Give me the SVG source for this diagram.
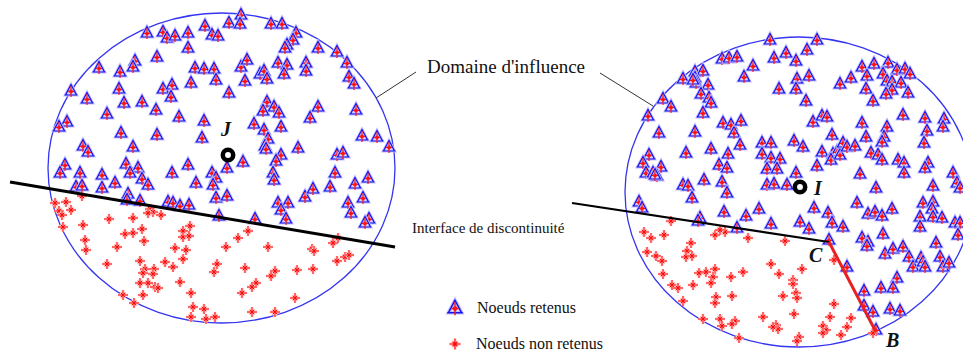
<svg xmlns="http://www.w3.org/2000/svg" xmlns:xlink="http://www.w3.org/1999/xlink" width="963" height="354" viewBox="0 0 963 354">
<style>
.dom{fill:none;stroke:#3535f0;stroke-width:1.3}
.lead{stroke:#333;stroke-width:1;fill:none}
.lbl{font-family:"Liberation Serif","Times New Roman",serif;fill:#111}
.pt{font-family:"Liberation Serif","Times New Roman",serif;font-style:italic;font-weight:bold;fill:#111;font-size:20px}
.ring{fill:none;stroke:#000;stroke-width:4.5}
</style>
<defs>
<g id="t">
<path d="M0,-6.5 L-5.5,4 L5.5,4 Z" fill="#efecff" stroke="#c2bcff" stroke-width="3"/>
<path d="M0,-6.5 L-5.5,4 L5.5,4 Z M-6.5,4 H6.5" fill="none" stroke="#1414ee" stroke-width="1.2"/>
<path d="M0,-5 V6 M-3,0.5 H3" stroke="#ff1414" stroke-width="1.2"/>
<circle cy="0.5" r="2" fill="#ff1414"/>
</g>
<g id="s">
<path d="M0,-5V5M-5,0H5M-2.5,-2.5L2.5,2.5M-2.5,2.5L2.5,-2.5" stroke="#ffc4c4" stroke-width="2.6"/>
<path d="M0,-5V5M-5,0H5M-2.2,-2.2L2.2,2.2M-2.2,2.2L2.2,-2.2" stroke="#ff0a0a" stroke-width="1"/>
<circle r="1.3" fill="#ff0a0a"/>
</g>
</defs>
<rect width="963" height="354" fill="#fff"/>

<g id="domaine-J">
<ellipse class="dom" cx="221.5" cy="168" rx="173.5" ry="155"/>
<g id="noeuds-retenus-J">
<use href="#t" x="241" y="15"/><use href="#t" x="229" y="23"/><use href="#t" x="240" y="24"/><use href="#t" x="271" y="24"/><use href="#t" x="282" y="24"/>
<use href="#t" x="147" y="33"/><use href="#t" x="163" y="32"/><use href="#t" x="167" y="38"/><use href="#t" x="175" y="36"/><use href="#t" x="188" y="33"/>
<use href="#t" x="205" y="26"/><use href="#t" x="212" y="35"/><use href="#t" x="218" y="36"/><use href="#t" x="296" y="33"/><use href="#t" x="293" y="40"/>
<use href="#t" x="287" y="45"/><use href="#t" x="285" y="48"/><use href="#t" x="188" y="48"/><use href="#t" x="318" y="48"/><use href="#t" x="337" y="52"/>
<use href="#t" x="347" y="63"/><use href="#t" x="157" y="57"/><use href="#t" x="135" y="61"/><use href="#t" x="133" y="67"/><use href="#t" x="99" y="68"/>
<use href="#t" x="120" y="72"/><use href="#t" x="195" y="68"/><use href="#t" x="204" y="69"/><use href="#t" x="214" y="69"/><use href="#t" x="216" y="80"/>
<use href="#t" x="241" y="67"/><use href="#t" x="247" y="60"/><use href="#t" x="245" y="81"/><use href="#t" x="260" y="74"/><use href="#t" x="264" y="71"/>
<use href="#t" x="267" y="79"/><use href="#t" x="278" y="63"/><use href="#t" x="287" y="65"/><use href="#t" x="284" y="74"/><use href="#t" x="306" y="63"/>
<use href="#t" x="306" y="71"/><use href="#t" x="349" y="77"/><use href="#t" x="354" y="84"/><use href="#t" x="71" y="91"/><use href="#t" x="87" y="99"/>
<use href="#t" x="119" y="89"/><use href="#t" x="163" y="89"/><use href="#t" x="172" y="85"/><use href="#t" x="171" y="97"/><use href="#t" x="191" y="83"/>
<use href="#t" x="229" y="93"/><use href="#t" x="124" y="103"/><use href="#t" x="142" y="102"/><use href="#t" x="156" y="110"/><use href="#t" x="107" y="114"/>
<use href="#t" x="179" y="117"/><use href="#t" x="204" y="121"/><use href="#t" x="267" y="102"/><use href="#t" x="274" y="107"/><use href="#t" x="263" y="111"/>
<use href="#t" x="279" y="113"/><use href="#t" x="318" y="107"/><use href="#t" x="356" y="110"/><use href="#t" x="310" y="118"/><use href="#t" x="254" y="124"/>
<use href="#t" x="264" y="130"/><use href="#t" x="281" y="127"/><use href="#t" x="268" y="139"/><use href="#t" x="265" y="146"/><use href="#t" x="266" y="149"/>
<use href="#t" x="67" y="122"/><use href="#t" x="59" y="127"/><use href="#t" x="121" y="133"/><use href="#t" x="157" y="135"/><use href="#t" x="202" y="138"/>
<use href="#t" x="133" y="147"/><use href="#t" x="83" y="146"/><use href="#t" x="88" y="152"/><use href="#t" x="298" y="148"/><use href="#t" x="362" y="136"/>
<use href="#t" x="377" y="137"/><use href="#t" x="389" y="147"/><use href="#t" x="337" y="155"/><use href="#t" x="343" y="153"/><use href="#t" x="281" y="155"/>
<use href="#t" x="276" y="161"/><use href="#t" x="243" y="162"/><use href="#t" x="227" y="168"/><use href="#t" x="65" y="165"/><use href="#t" x="60" y="173"/>
<use href="#t" x="80" y="173"/><use href="#t" x="102" y="175"/><use href="#t" x="126" y="164"/><use href="#t" x="138" y="168"/><use href="#t" x="130" y="173"/>
<use href="#t" x="172" y="173"/><use href="#t" x="188" y="165"/><use href="#t" x="212" y="173"/><use href="#t" x="216" y="178"/><use href="#t" x="273" y="173"/>
<use href="#t" x="335" y="173"/><use href="#t" x="368" y="178"/><use href="#t" x="142" y="179"/><use href="#t" x="148" y="185"/><use href="#t" x="213" y="185"/>
<use href="#t" x="196" y="183"/><use href="#t" x="274" y="180"/><use href="#t" x="355" y="184"/><use href="#t" x="76" y="187"/><use href="#t" x="82" y="186"/>
<use href="#t" x="102" y="188"/><use href="#t" x="115" y="183"/><use href="#t" x="128" y="194"/><use href="#t" x="127" y="200"/><use href="#t" x="140" y="201"/>
<use href="#t" x="168" y="202"/><use href="#t" x="173" y="203"/><use href="#t" x="180" y="206"/><use href="#t" x="189" y="205"/><use href="#t" x="216" y="198"/>
<use href="#t" x="227" y="196"/><use href="#t" x="219" y="216"/><use href="#t" x="255" y="219"/><use href="#t" x="278" y="203"/><use href="#t" x="288" y="203"/>
<use href="#t" x="281" y="210"/><use href="#t" x="286" y="219"/><use href="#t" x="305" y="197"/><use href="#t" x="313" y="189"/><use href="#t" x="330" y="187"/>
<use href="#t" x="348" y="203"/><use href="#t" x="363" y="198"/><use href="#t" x="351" y="213"/><use href="#t" x="369" y="219"/><use href="#t" x="365" y="223"/>
</g>
<g id="noeuds-non-retenus-J">
<use href="#s" x="55" y="203"/><use href="#s" x="66" y="202"/><use href="#s" x="71" y="210"/><use href="#s" x="59" y="211"/><use href="#s" x="62" y="215"/>
<use href="#s" x="63" y="227"/><use href="#s" x="82" y="196"/><use href="#s" x="83" y="225"/><use href="#s" x="85" y="240"/><use href="#s" x="86" y="250"/>
<use href="#s" x="109" y="219"/><use href="#s" x="133" y="218"/><use href="#s" x="150" y="209"/><use href="#s" x="153" y="212"/><use href="#s" x="148" y="213"/>
<use href="#s" x="161" y="215"/><use href="#s" x="125" y="234"/><use href="#s" x="133" y="233"/><use href="#s" x="142" y="229"/><use href="#s" x="144" y="241"/>
<use href="#s" x="117" y="247"/><use href="#s" x="183" y="231"/><use href="#s" x="190" y="226"/><use href="#s" x="183" y="237"/><use href="#s" x="189" y="236"/>
<use href="#s" x="175" y="248"/><use href="#s" x="186" y="250"/><use href="#s" x="183" y="259"/><use href="#s" x="140" y="261"/><use href="#s" x="165" y="262"/>
<use href="#s" x="173" y="267"/><use href="#s" x="107" y="264"/><use href="#s" x="145" y="269"/><use href="#s" x="154" y="269"/><use href="#s" x="143" y="273"/>
<use href="#s" x="153" y="274"/><use href="#s" x="140" y="283"/><use href="#s" x="148" y="283"/><use href="#s" x="155" y="287"/><use href="#s" x="158" y="288"/>
<use href="#s" x="180" y="282"/><use href="#s" x="123" y="295"/><use href="#s" x="143" y="295"/><use href="#s" x="134" y="303"/><use href="#s" x="191" y="293"/>
<use href="#s" x="193" y="307"/><use href="#s" x="204" y="309"/><use href="#s" x="191" y="317"/><use href="#s" x="206" y="319"/><use href="#s" x="215" y="317"/>
<use href="#s" x="226" y="247"/><use href="#s" x="238" y="238"/><use href="#s" x="248" y="231"/><use href="#s" x="217" y="264"/><use href="#s" x="214" y="272"/>
<use href="#s" x="245" y="268"/><use href="#s" x="268" y="247"/><use href="#s" x="275" y="271"/><use href="#s" x="271" y="276"/><use href="#s" x="256" y="283"/>
<use href="#s" x="252" y="287"/><use href="#s" x="242" y="293"/><use href="#s" x="252" y="312"/><use href="#s" x="275" y="312"/><use href="#s" x="295" y="298"/>
<use href="#s" x="297" y="270"/><use href="#s" x="313" y="269"/><use href="#s" x="312" y="249"/><use href="#s" x="314" y="251"/><use href="#s" x="333" y="243"/>
<use href="#s" x="338" y="238"/><use href="#s" x="337" y="261"/><use href="#s" x="345" y="257"/><use href="#s" x="349" y="255"/>
</g>
<g id="node-J">
<circle class="ring" cx="228" cy="155" r="5.2"/>
<text class="pt" x="221" y="136">J</text>
</g>
</g>

<g id="domaine-I">
<ellipse class="dom" cx="799" cy="192" rx="174" ry="155"/>
<g id="noeuds-retenus-I">
<use href="#t" x="770" y="40"/><use href="#t" x="817" y="40"/><use href="#t" x="786" y="53"/><use href="#t" x="807" y="50"/><use href="#t" x="774" y="58"/>
<use href="#t" x="796" y="61"/><use href="#t" x="722" y="59"/><use href="#t" x="729" y="58"/><use href="#t" x="737" y="57"/><use href="#t" x="753" y="66"/>
<use href="#t" x="695" y="72"/><use href="#t" x="703" y="71"/><use href="#t" x="683" y="79"/><use href="#t" x="695" y="78"/><use href="#t" x="696" y="83"/>
<use href="#t" x="693" y="80"/><use href="#t" x="708" y="85"/><use href="#t" x="701" y="94"/><use href="#t" x="709" y="98"/><use href="#t" x="711" y="103"/>
<use href="#t" x="663" y="99"/><use href="#t" x="671" y="107"/><use href="#t" x="648" y="116"/><use href="#t" x="703" y="113"/><use href="#t" x="744" y="77"/>
<use href="#t" x="797" y="79"/><use href="#t" x="809" y="76"/><use href="#t" x="779" y="89"/><use href="#t" x="796" y="89"/><use href="#t" x="806" y="101"/>
<use href="#t" x="840" y="84"/><use href="#t" x="851" y="78"/><use href="#t" x="862" y="67"/><use href="#t" x="874" y="64"/><use href="#t" x="888" y="63"/>
<use href="#t" x="897" y="70"/><use href="#t" x="905" y="69"/><use href="#t" x="910" y="74"/><use href="#t" x="867" y="76"/><use href="#t" x="883" y="74"/>
<use href="#t" x="887" y="81"/><use href="#t" x="892" y="82"/><use href="#t" x="901" y="83"/><use href="#t" x="866" y="89"/><use href="#t" x="892" y="90"/>
<use href="#t" x="886" y="94"/><use href="#t" x="908" y="93"/><use href="#t" x="873" y="101"/><use href="#t" x="659" y="133"/><use href="#t" x="695" y="132"/>
<use href="#t" x="723" y="123"/><use href="#t" x="731" y="125"/><use href="#t" x="734" y="133"/><use href="#t" x="741" y="121"/><use href="#t" x="711" y="149"/>
<use href="#t" x="740" y="145"/><use href="#t" x="686" y="153"/><use href="#t" x="728" y="154"/><use href="#t" x="649" y="155"/><use href="#t" x="643" y="163"/>
<use href="#t" x="661" y="167"/><use href="#t" x="646" y="173"/><use href="#t" x="653" y="173"/><use href="#t" x="657" y="176"/><use href="#t" x="719" y="165"/>
<use href="#t" x="727" y="168"/><use href="#t" x="704" y="180"/><use href="#t" x="762" y="143"/><use href="#t" x="771" y="143"/><use href="#t" x="762" y="154"/>
<use href="#t" x="771" y="158"/><use href="#t" x="780" y="159"/><use href="#t" x="767" y="169"/><use href="#t" x="777" y="169"/><use href="#t" x="794" y="141"/>
<use href="#t" x="803" y="147"/><use href="#t" x="813" y="122"/><use href="#t" x="822" y="116"/><use href="#t" x="827" y="117"/><use href="#t" x="832" y="135"/>
<use href="#t" x="822" y="152"/><use href="#t" x="817" y="166"/><use href="#t" x="796" y="173"/><use href="#t" x="833" y="154"/><use href="#t" x="837" y="152"/>
<use href="#t" x="831" y="160"/><use href="#t" x="840" y="155"/><use href="#t" x="843" y="143"/><use href="#t" x="847" y="147"/><use href="#t" x="855" y="146"/>
<use href="#t" x="862" y="123"/><use href="#t" x="866" y="137"/><use href="#t" x="887" y="127"/><use href="#t" x="884" y="137"/><use href="#t" x="882" y="142"/>
<use href="#t" x="871" y="153"/><use href="#t" x="878" y="155"/><use href="#t" x="882" y="160"/><use href="#t" x="860" y="174"/><use href="#t" x="898" y="160"/>
<use href="#t" x="904" y="163"/><use href="#t" x="904" y="173"/><use href="#t" x="903" y="115"/><use href="#t" x="925" y="118"/><use href="#t" x="944" y="119"/>
<use href="#t" x="943" y="127"/><use href="#t" x="927" y="131"/><use href="#t" x="924" y="143"/><use href="#t" x="928" y="163"/><use href="#t" x="925" y="168"/>
<use href="#t" x="953" y="173"/><use href="#t" x="655" y="175"/><use href="#t" x="683" y="185"/><use href="#t" x="688" y="186"/><use href="#t" x="722" y="182"/>
<use href="#t" x="767" y="185"/><use href="#t" x="774" y="184"/><use href="#t" x="787" y="185"/><use href="#t" x="727" y="193"/><use href="#t" x="692" y="198"/>
<use href="#t" x="639" y="202"/><use href="#t" x="642" y="208"/><use href="#t" x="724" y="212"/><use href="#t" x="746" y="216"/><use href="#t" x="759" y="209"/>
<use href="#t" x="700" y="218"/><use href="#t" x="698" y="221"/><use href="#t" x="771" y="224"/><use href="#t" x="800" y="222"/><use href="#t" x="809" y="229"/>
<use href="#t" x="737" y="228"/><use href="#t" x="814" y="208"/><use href="#t" x="828" y="213"/><use href="#t" x="832" y="223"/><use href="#t" x="843" y="227"/>
<use href="#t" x="857" y="203"/><use href="#t" x="876" y="188"/><use href="#t" x="933" y="186"/><use href="#t" x="957" y="183"/><use href="#t" x="960" y="188"/>
<use href="#t" x="923" y="203"/><use href="#t" x="933" y="202"/><use href="#t" x="932" y="209"/><use href="#t" x="933" y="217"/><use href="#t" x="942" y="218"/>
<use href="#t" x="920" y="217"/><use href="#t" x="920" y="227"/><use href="#t" x="892" y="209"/><use href="#t" x="868" y="214"/><use href="#t" x="875" y="212"/>
<use href="#t" x="882" y="216"/><use href="#t" x="883" y="234"/><use href="#t" x="862" y="238"/><use href="#t" x="868" y="242"/><use href="#t" x="867" y="246"/>
<use href="#t" x="955" y="223"/><use href="#t" x="960" y="223"/><use href="#t" x="958" y="235"/><use href="#t" x="936" y="243"/><use href="#t" x="829" y="240"/>
<use href="#t" x="885" y="254"/><use href="#t" x="893" y="249"/><use href="#t" x="903" y="247"/><use href="#t" x="909" y="257"/><use href="#t" x="913" y="267"/>
<use href="#t" x="921" y="258"/><use href="#t" x="923" y="262"/><use href="#t" x="925" y="267"/><use href="#t" x="940" y="257"/><use href="#t" x="943" y="267"/>
<use href="#t" x="949" y="263"/><use href="#t" x="847" y="267"/><use href="#t" x="897" y="278"/><use href="#t" x="864" y="291"/><use href="#t" x="881" y="288"/>
<use href="#t" x="893" y="288"/><use href="#t" x="864" y="306"/><use href="#t" x="873" y="312"/><use href="#t" x="890" y="309"/><use href="#t" x="900" y="311"/>
<use href="#t" x="876" y="330"/>
</g>
<g id="noeuds-non-retenus-I">
<use href="#s" x="671" y="221"/><use href="#s" x="644" y="232"/><use href="#s" x="651" y="238"/><use href="#s" x="664" y="235"/><use href="#s" x="691" y="243"/>
<use href="#s" x="647" y="252"/><use href="#s" x="656" y="256"/><use href="#s" x="662" y="261"/><use href="#s" x="687" y="251"/><use href="#s" x="686" y="257"/>
<use href="#s" x="692" y="256"/><use href="#s" x="663" y="274"/><use href="#s" x="699" y="273"/><use href="#s" x="706" y="272"/><use href="#s" x="715" y="269"/>
<use href="#s" x="713" y="277"/><use href="#s" x="711" y="283"/><use href="#s" x="672" y="285"/><use href="#s" x="678" y="288"/><use href="#s" x="693" y="285"/>
<use href="#s" x="731" y="277"/><use href="#s" x="743" y="272"/><use href="#s" x="732" y="296"/><use href="#s" x="716" y="297"/><use href="#s" x="715" y="303"/>
<use href="#s" x="683" y="301"/><use href="#s" x="715" y="235"/><use href="#s" x="725" y="232"/><use href="#s" x="720" y="230"/><use href="#s" x="748" y="238"/>
<use href="#s" x="785" y="241"/><use href="#s" x="771" y="264"/><use href="#s" x="779" y="274"/><use href="#s" x="802" y="269"/><use href="#s" x="793" y="280"/>
<use href="#s" x="793" y="284"/><use href="#s" x="796" y="293"/><use href="#s" x="797" y="298"/><use href="#s" x="783" y="296"/><use href="#s" x="834" y="260"/>
<use href="#s" x="834" y="304"/><use href="#s" x="794" y="314"/><use href="#s" x="763" y="317"/><use href="#s" x="703" y="319"/><use href="#s" x="720" y="319"/>
<use href="#s" x="722" y="326"/><use href="#s" x="735" y="321"/><use href="#s" x="732" y="324"/><use href="#s" x="830" y="317"/><use href="#s" x="851" y="318"/>
<use href="#s" x="776" y="325"/><use href="#s" x="778" y="329"/><use href="#s" x="773" y="327"/><use href="#s" x="823" y="326"/><use href="#s" x="826" y="330"/>
<use href="#s" x="823" y="333"/><use href="#s" x="847" y="327"/><use href="#s" x="841" y="335"/><use href="#s" x="739" y="338"/><use href="#s" x="799" y="337"/>
<use href="#s" x="797" y="341"/><use href="#s" x="873" y="333"/>
</g>
<g id="node-I">
<circle class="ring" cx="800" cy="187" r="5.2"/>
<text class="pt" x="814" y="195" font-size="21">I</text>
</g>
<g id="node-C"><text class="pt" x="809" y="262">C</text></g>
<g id="node-B"><text class="pt" x="886" y="347">B</text></g>
</g>

<g id="connectors">
<line x1="10" y1="182" x2="395" y2="247" stroke="#000" stroke-width="3"/>
<line x1="572" y1="203" x2="829" y2="242" stroke="#000" stroke-width="2.2"/>
<line x1="829" y1="242" x2="876" y2="332" stroke="#e82020" stroke-width="3"/>
<line class="lead" x1="376" y1="98" x2="416" y2="72"/>
<line class="lead" x1="600" y1="73" x2="653" y2="106"/>
</g>

<g id="labels">
<text class="lbl" x="427" y="73" font-size="19">Domaine d'influence</text>
<text class="lbl" x="412" y="233" font-size="15">Interface de discontinuité</text>
</g>

<g id="legend">
<use href="#t" x="455" y="308" transform="translate(455,308) scale(1.2) translate(-455,-308)"/>
<text class="lbl" x="477" y="313" font-size="16">Noeuds retenus</text>
<use href="#s" x="455" y="344" transform="translate(455,344) scale(1.1) translate(-455,-344)"/>
<text class="lbl" x="476" y="349" font-size="16">Noeuds non retenus</text>
</g>
</svg>
